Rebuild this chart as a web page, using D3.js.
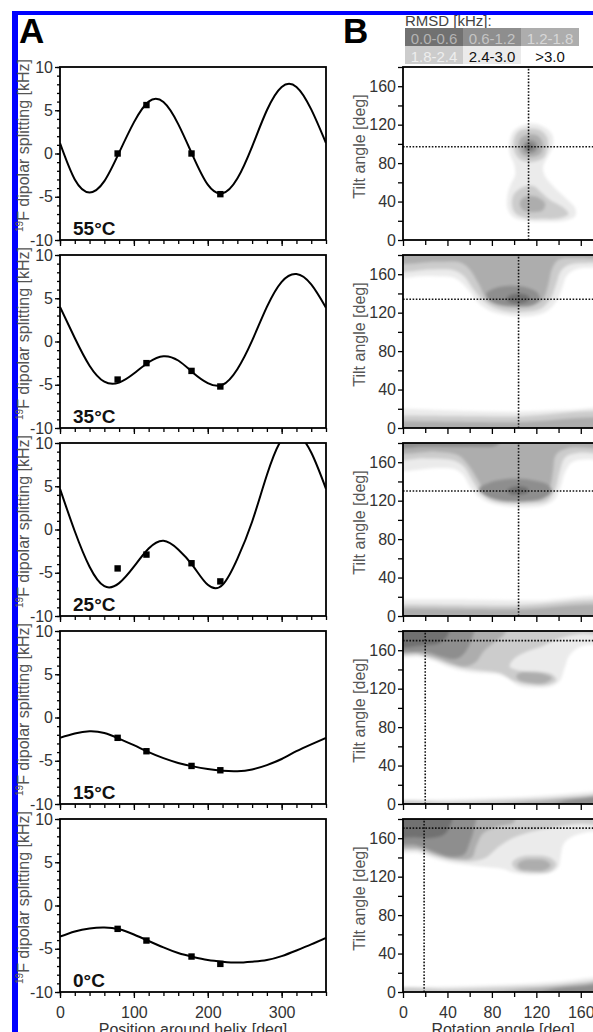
<!DOCTYPE html>
<meta charset="utf-8">
<script src="https://d3js.org/d3.v7.min.js"></script>
<style>
  body { margin: 0; background: #fff; }
  svg text { font-family: Arial, "Liberation Sans", sans-serif; }
</style>
<div id="chart"></div>
<script>
// ---- data ----
var positions = [0,20,40,60,80,100,120,140,160,180,200,220,240,260,280,300,320,340,360];
var temperatures = ["55°C","35°C","25°C","15°C","0°C"];

// fitted dipolar waves, sampled every 20 deg
var curve55 = [1.2,-3.0,-4.5,-3.2,0.1,3.6,6.0,5.95,3.4,-0.3,-3.6,-4.6,-2.9,0.8,5.0,7.7,7.7,5.1,1.2];
var curve35 = [4.0,0.4,-2.8,-4.65,-4.75,-3.7,-2.4,-1.7,-2.2,-3.6,-4.8,-5.0,-3.2,0.1,4.0,6.9,7.8,6.6,3.9];
var curve25 = [4.7,-0.2,-4.3,-6.55,-6.2,-4.3,-2.2,-1.3,-2.3,-4.2,-6.4,-6.4,-3.4,0.9,6.3,10.4,11.1,8.9,4.7];
var curve15 = [-2.35,-1.85,-1.6,-1.8,-2.45,-3.2,-4.0,-4.7,-5.25,-5.65,-5.95,-6.15,-6.2,-6.0,-5.5,-4.8,-3.9,-3.1,-2.35];
var curve0  = [-3.6,-3.0,-2.65,-2.55,-2.75,-3.35,-4.1,-4.85,-5.5,-5.95,-6.3,-6.5,-6.6,-6.5,-6.3,-5.85,-5.2,-4.5,-3.75];
var fitCurves = [curve55, curve35, curve25, curve15, curve0];

// measured splittings at the labelled positions
var labelPositions = [78,117,178,217];
var points55 = [0.0,5.6,0.0,-4.7];
var points35 = [-4.4,-2.5,-3.4,-5.2];
var points25 = [-4.5,-2.9,-3.9,-6.0];
var points15 = [-2.35,-3.9,-5.6,-6.1];
var points0  = [-2.7,-4.05,-5.9,-6.75];
var measured = [points55, points35, points25, points15, points0];

// best fit (rotation, tilt)
var crossRotation = [113,104,104,20,19];
var crossTilt = [97,134,130,170,170.5];

// RMSD classes
var rmsdClasses = ["0.0-0.6","0.6-1.2","1.2-1.8","1.8-2.4","2.4-3.0",">3.0"];
var rmsdLimits = [0.6,1.2,1.8,2.4,3.0];

// RMSD contour outlines: [rotation, tilt] points, region below the given limit
var map55 = [
  {rmsd:3.0, pts:[[114,121],[126,118],[134,110],[135,98],[130,86],[126,76],[128,66],[136,55],[147,43],[155,33],[155,25],[145,20],[128,19],[110,20],[99,24],[94,33],[94,46],[97,58],[101,68],[100,79],[96,90],[96,103],[100,114]]},
  {rmsd:2.4, pts:[[114,116],[124,114],[130,106],[130,95],[126,85],[115,81],[105,84],[100,93],[100,105],[104,113]]},
  {rmsd:2.4, pts:[[110,56],[118,56],[124,50],[132,42],[144,34],[149,27],[142,23],[126,22],[110,23],[101,28],[98,37],[100,48]]},
  {rmsd:1.8, pts:[[114,110],[122,108],[126,100],[124,90],[115,86],[107,89],[104,97],[106,106]]},
  {rmsd:1.8, pts:[[115,46],[122,44],[128,38],[126,31],[117,29],[108,31],[105,38],[108,44]]},
  {rmsd:1.2, pts:[[114,104],[120,101],[120,93],[114,90],[109,93],[109,100]]},
  {rmsd:0.6, pts:[[113,100],[117,98],[116,94],[112,94],[110,97]]}
];
var map35 = [
  {rmsd:3.0, pts:[[-10,190],[190,190],[190,166],[170,167],[155,165],[147,158],[143,145],[138,132],[130,122],[118,117],[104,116],[90,118],[78,122],[68,130],[60,142],[52,152],[44,157],[30,158],[15,158],[-10,158]]},
  {rmsd:2.4, pts:[[-10,190],[190,190],[190,172],[170,172],[150,170],[142,163],[138,150],[133,135],[124,124],[110,121],[95,121],[82,125],[72,133],[63,145],[55,158],[46,164],[25,165],[-10,165]]},
  {rmsd:1.8, pts:[[-10,190],[190,190],[190,177],[160,177],[140,175],[134,165],[131,150],[126,134],[116,127],[100,126],[85,128],[75,135],[68,150],[60,165],[52,172],[30,173],[-10,173]]},
  {rmsd:1.2, pts:[[99,148],[112,146],[121,141],[123,134],[117,128],[104,126],[88,128],[77,133],[75,140],[84,146]]},
  {rmsd:0.6, pts:[[104,140],[112,138],[114,134],[108,130],[98,130],[93,134],[96,138]]},
  {rmsd:3.0, pts:[[-10,-10],[190,-10],[190,18],[150,19],[100,17],[50,18],[0,20],[-10,20]]},
  {rmsd:2.4, pts:[[-10,-10],[190,-10],[190,13],[100,12],[0,13],[-10,13]]},
  {rmsd:1.8, pts:[[-10,-10],[190,-10],[190,7],[100,6],[0,7],[-10,7]]}
];
var map25 = [
  {rmsd:3.0, pts:[[-10,190],[190,190],[190,163],[165,163],[152,160],[146,150],[142,135],[137,122],[127,115],[110,113],[95,114],[80,117],[68,124],[60,135],[54,147],[46,153],[30,154],[-10,154]]},
  {rmsd:2.4, pts:[[-10,190],[190,190],[190,170],[160,170],[146,165],[141,150],[137,132],[130,120],[115,117],[95,117],[80,120],[70,128],[62,142],[55,155],[45,162],[20,164],[-10,164]]},
  {rmsd:1.8, pts:[[-10,190],[190,190],[190,176],[150,175],[138,168],[135,150],[132,134],[122,124],[105,121],[88,122],[75,128],[68,140],[60,155],[50,167],[30,171],[-10,171]]},
  {rmsd:1.2, pts:[[100,143],[118,141],[130,137],[134,130],[126,122],[108,119],[88,120],[74,125],[68,132],[78,139]]},
  {rmsd:1.2, pts:[[-10,190],[90,190],[85,178],[60,176],[20,176],[-10,176]]},
  {rmsd:0.6, pts:[[104,135],[112,133],[113,129],[105,126],[96,127],[94,131],[98,134]]},
  {rmsd:3.0, pts:[[-10,-10],[190,-10],[190,17],[120,16],[60,17],[0,17],[-10,17]]},
  {rmsd:2.4, pts:[[-10,-10],[190,-10],[190,12],[100,11],[0,12],[-10,12]]},
  {rmsd:1.8, pts:[[-10,-10],[190,-10],[190,8],[100,7],[0,8],[-10,8]]}
];
var map15 = [
  {rmsd:3.0, pts:[[-10,190],[190,190],[190,165],[172,166],[160,164],[150,155],[145,140],[141,128],[132,122],[118,121],[104,123],[95,130],[85,135],[70,136],[55,138],[42,142],[30,148],[15,153],[-10,155]]},
  {rmsd:2.4, pts:[[-10,190],[190,190],[190,176],[160,177],[140,172],[125,164],[110,158],[100,151],[96,143],[104,139],[120,138],[134,135],[138,129],[130,124],[115,124],[100,128],[88,136],[70,139],[55,141],[42,145],[30,150],[15,155],[-10,157]]},
  {rmsd:1.8, pts:[[-10,190],[95,190],[92,178],[82,168],[72,158],[66,148],[56,143],[42,147],[28,153],[12,157],[-10,159]]},
  {rmsd:1.8, pts:[[115,137],[128,135],[134,131],[128,126],[114,126],[104,129],[102,134],[107,137]]},
  {rmsd:1.2, pts:[[-10,190],[64,190],[62,172],[56,158],[48,151],[36,153],[22,158],[-10,161]]},
  {rmsd:0.6, pts:[[-10,190],[42,190],[40,175],[32,167],[18,165],[-10,165]]},
  {rmsd:3.0, pts:[[-10,-10],[190,-10],[190,15],[170,13],[140,10],[100,7],[50,5],[0,4],[-10,4]]},
  {rmsd:2.4, pts:[[-10,-10],[190,-10],[190,11],[165,9],[130,6],[90,4],[40,2],[-10,1]]},
  {rmsd:1.8, pts:[[60,-10],[190,-10],[190,8],[160,7],[130,4],[100,1],[80,-3]]},
  {rmsd:1.2, pts:[[125,-10],[190,-10],[190,7],[165,6],[145,3],[132,-3]]}
];
var map0 = [
  {rmsd:3.0, pts:[[-10,190],[190,190],[190,167],[170,167],[155,163],[145,155],[142,142],[140,130],[132,124],[115,122],[100,124],[90,128],[75,130],[60,132],[45,134],[30,138],[15,144],[-10,148]]},
  {rmsd:2.4, pts:[[-10,190],[190,190],[190,174],[160,175],[130,170],[110,165],[95,158],[85,150],[75,140],[62,136],[45,137],[30,141],[15,147],[-10,151]]},
  {rmsd:2.4, pts:[[117,142],[132,140],[138,133],[132,125],[116,124],[102,127],[98,134],[104,140]]},
  {rmsd:1.8, pts:[[-10,190],[100,190],[100,177],[85,172],[72,165],[66,152],[62,140],[48,138],[32,142],[15,149],[-10,153]]},
  {rmsd:1.8, pts:[[117,138],[128,137],[133,132],[128,127],[116,126],[105,128],[103,133],[108,137]]},
  {rmsd:1.2, pts:[[-10,190],[65,190],[64,170],[60,155],[55,143],[42,141],[28,146],[12,153],[-10,156]]},
  {rmsd:0.6, pts:[[-10,190],[44,190],[42,172],[36,163],[24,160],[10,161],[-10,162]]},
  {rmsd:3.0, pts:[[-10,-10],[190,-10],[190,17],[170,15],[140,11],[100,8],[50,6],[0,5],[-10,5]]},
  {rmsd:2.4, pts:[[-10,-10],[190,-10],[190,13],[165,11],[130,7],[90,5],[40,3],[-10,2]]},
  {rmsd:1.8, pts:[[50,-10],[190,-10],[190,10],[160,8],[130,5],[100,2],[70,-3]]},
  {rmsd:1.2, pts:[[110,-10],[190,-10],[190,7],[160,6],[135,3],[118,-3]]}
];
var rmsdMaps = [map55, map35, map25, map15, map0];

// ---- layout ----
var width = 593, height = 1032;
var tops = [67, 255, 443, 631, 819];
var ph = 173;

var svg = d3.select("#chart").append("svg")
    .attr("width", width)
    .attr("height", height);

var defs = svg.append("defs");
defs.append("filter").attr("id", "soft")
    .attr("x", "-10%").attr("y", "-10%").attr("width", "120%").attr("height", "120%")
  .append("feGaussianBlur").attr("stdDeviation", 1.5);

var shade = d3.scaleOrdinal()
    .domain([0.6, 1.2, 1.8, 2.4, 3.0, 99])
    .range(["#717171", "#8e8e8e", "#adadad", "#cccccc", "#ebebeb", "#ffffff"]);
var shadeText = ["#b4b4b4", "#c4c4c4", "#d8d8d8", "#eeeeee", "#111", "#111"];

// blue frame of the figure
svg.append("rect").attr("x", 12).attr("y", 11).attr("width", 581).attr("height", 4).attr("fill", "#0000ff");
svg.append("rect").attr("x", 12).attr("y", 11).attr("width", 6).attr("height", height - 11).attr("fill", "#0000ff");

// panel letters
svg.append("text").attr("x", 19).attr("y", 43).attr("font-size", 35).attr("font-weight", "bold").text("A");
svg.append("text").attr("x", 343).attr("y", 43).attr("font-size", 35).attr("font-weight", "bold").text("B");

var x = d3.scaleLinear().domain([0, 360]).range([60, 326]);
var xB = d3.scaleLinear().domain([0, 180]).range([403, 603]);

function styleAxis(g, showText) {
  g.select(".domain").remove();
  g.selectAll(".tick line").attr("stroke", "#000").attr("stroke-width", 1.3);
  g.selectAll(".tick text").attr("font-size", 16).attr("fill", "#333")
    .attr("font-family", "Arial, 'Liberation Sans', sans-serif");
  if (!showText) g.selectAll(".tick text").remove();
}

function fmt(d) { return String(d); }

// ---- panel A ----
fitCurves.forEach(function(curve, i) {
  var top = tops[i];
  var y = d3.scaleLinear().domain([-10, 10]).range([top + ph, top]);
  var last = i === fitCurves.length - 1;

  svg.append("clipPath").attr("id", "clipA" + i)
    .append("rect").attr("x", x(0)).attr("y", top).attr("width", x(360) - x(0)).attr("height", ph);

  var line = d3.line()
      .x(function(d, j) { return x(positions[j]); })
      .y(function(d) { return y(d); })
      .curve(d3.curveNatural);

  svg.append("g").attr("clip-path", "url(#clipA" + i + ")")
    .append("path")
      .attr("d", line(curve))
      .attr("fill", "none")
      .attr("stroke", "#000")
      .attr("stroke-width", 2);

  svg.append("g").selectAll("rect")
    .data(measured[i])
    .enter()
    .append("rect")
      .attr("x", function(d, j) { return x(labelPositions[j]) - 3.2; })
      .attr("y", function(d) { return y(d) - 3.2; })
      .attr("width", 6.4)
      .attr("height", 6.4)
      .attr("fill", "#000");

  // axes
  svg.append("g").attr("transform", "translate(" + x(0) + ",0)")
    .call(d3.axisLeft(y).tickValues(d3.range(-10, 11, 1)).tickSize(3).tickFormat(""))
    .call(styleAxis, false);
  svg.append("g").attr("transform", "translate(" + x(0) + ",0)")
    .call(d3.axisLeft(y).tickValues([-10, -5, 0, 5, 10]).tickSize(5).tickPadding(2).tickFormat(fmt))
    .call(styleAxis, true);
  svg.append("g").attr("transform", "translate(0," + (top + ph) + ")")
    .call(d3.axisBottom(x).tickValues(positions).tickSize(4).tickFormat(""))
    .call(styleAxis, false);
  svg.append("g").attr("transform", "translate(0," + (top + ph) + ")")
    .call(d3.axisBottom(x).tickValues([0, 100, 200, 300]).tickSize(6).tickPadding(9).tickFormat(fmt))
    .call(styleAxis, last);

  svg.append("rect")
    .attr("x", x(0)).attr("y", top)
    .attr("width", x(360) - x(0)).attr("height", ph)
    .attr("fill", "none").attr("stroke", "#000").attr("stroke-width", 1.8);

  svg.append("text")
    .attr("x", 73).attr("y", top + ph - 5)
    .attr("font-size", 19).attr("font-weight", "bold").attr("fill", "#111")
    .text(temperatures[i]);

  var lab = svg.append("text")
    .attr("transform", "translate(29," + (top + ph / 2 - 8) + ") rotate(-90)")
    .attr("text-anchor", "middle")
    .attr("font-size", 16)
    .attr("fill", "#555");
  lab.append("tspan").attr("font-size", 10).attr("dy", -6).text("19");
  lab.append("tspan").attr("dy", 6).text("F dipolar splitting [kHz]");
});

svg.append("text")
  .attr("x", (x(0) + x(360)) / 2).attr("y", 1035)
  .attr("text-anchor", "middle").attr("font-size", 16).attr("fill", "#333")
  .text("Position around helix [deg]");

// ---- panel B ----
rmsdMaps.forEach(function(map, i) {
  var top = tops[i];
  var yB = d3.scaleLinear().domain([0, 180]).range([top + ph, top]);
  var last = i === rmsdMaps.length - 1;

  svg.append("clipPath").attr("id", "clipB" + i)
    .append("rect").attr("x", xB(0)).attr("y", top).attr("width", xB(180) - xB(0)).attr("height", ph);

  var outline = d3.line()
      .x(function(d) { return xB(d[0]); })
      .y(function(d) { return yB(d[1]); })
      .curve(d3.curveCatmullRomClosed.alpha(0.5));

  svg.append("g").attr("clip-path", "url(#clipB" + i + ")")
    .append("g").attr("filter", "url(#soft)")
    .selectAll("path")
    .data(map.slice().sort(function(a, b) { return b.rmsd - a.rmsd; }))
    .enter()
    .append("path")
      .attr("d", function(d) { return outline(d.pts); })
      .attr("fill", function(d) { return shade(d.rmsd); });

  var cross = svg.append("g").attr("clip-path", "url(#clipB" + i + ")")
    .attr("stroke", "#111").attr("stroke-width", 1.6).attr("stroke-dasharray", "1.6,1.6");
  cross.append("line")
    .attr("x1", xB(crossRotation[i])).attr("x2", xB(crossRotation[i]))
    .attr("y1", yB(0)).attr("y2", yB(180));
  cross.append("line")
    .attr("x1", xB(0)).attr("x2", xB(180))
    .attr("y1", yB(crossTilt[i])).attr("y2", yB(crossTilt[i]));

  svg.append("g").attr("transform", "translate(" + xB(0) + ",0)")
    .call(d3.axisLeft(yB).tickValues([20, 60, 100, 140, 180]).tickSize(5).tickFormat(""))
    .call(styleAxis, false);
  svg.append("g").attr("transform", "translate(" + xB(0) + ",0)")
    .call(d3.axisLeft(yB).tickValues([0, 40, 80, 120, 160]).tickSize(5).tickPadding(2).tickFormat(fmt))
    .call(styleAxis, true);
  svg.append("g").attr("transform", "translate(0," + (top + ph) + ")")
    .call(d3.axisBottom(xB).tickValues([20, 60, 100, 140, 180]).tickSize(5).tickFormat(""))
    .call(styleAxis, false);
  svg.append("g").attr("transform", "translate(0," + (top + ph) + ")")
    .call(d3.axisBottom(xB).tickValues([0, 40, 80, 120, 160]).tickSize(6).tickPadding(9).tickFormat(fmt))
    .call(styleAxis, last);

  svg.append("rect")
    .attr("x", xB(0)).attr("y", top)
    .attr("width", xB(180) - xB(0)).attr("height", ph)
    .attr("fill", "none").attr("stroke", "#000").attr("stroke-width", 1.8);

  svg.append("text")
    .attr("transform", "translate(365," + (top + ph / 2 - 7) + ") rotate(-90)")
    .attr("text-anchor", "middle")
    .attr("font-size", 16)
    .attr("fill", "#555")
    .text("Tilt angle [deg]");
});

svg.append("text")
  .attr("x", (xB(0) + xB(180)) / 2).attr("y", 1035)
  .attr("text-anchor", "middle").attr("font-size", 16).attr("fill", "#333")
  .text("Rotation angle [deg]");

// ---- RMSD legend ----
svg.append("text").attr("x", 405).attr("y", 26).attr("font-size", 15).attr("fill", "#444").text("RMSD [kHz]:");

var legend = svg.append("g").selectAll("g")
  .data(rmsdClasses)
  .enter()
  .append("g")
    .attr("transform", function(d, j) { return "translate(" + (405 + (j % 3) * 58) + "," + (28 + Math.floor(j / 3) * 18) + ")"; });
legend.append("rect")
  .attr("width", 58).attr("height", 18)
  .attr("fill", function(d, j) { return shade(j < 5 ? rmsdLimits[j] : 99); });
legend.append("text")
  .attr("x", 29).attr("y", 16)
  .attr("text-anchor", "middle")
  .attr("font-size", 15)
  .attr("fill", function(d, j) { return shadeText[j]; })
  .text(function(d) { return d; });
</script>
